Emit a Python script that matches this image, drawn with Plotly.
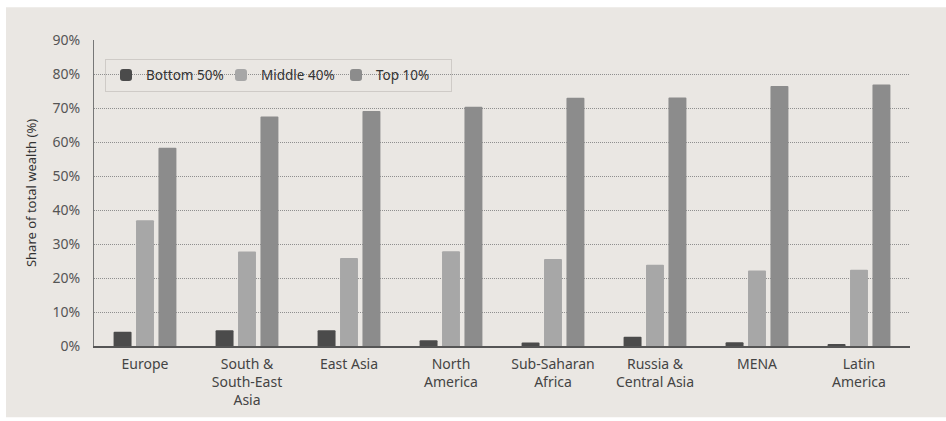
import plotly.graph_objects as go

# Regional wealth shares by group
regions = ["Europe", "South &<br>South-East<br>Asia", "East Asia", "North<br>America",
           "Sub-Saharan<br>Africa", "Russia &<br>Central Asia", "MENA", "Latin<br>America"]
bottom50 = [4.2, 4.6, 4.6, 1.7, 1.0, 2.7, 1.1, 0.5]
middle40 = [37.0, 27.8, 25.9, 27.9, 25.6, 23.9, 22.2, 22.4]
top10 = [58.3, 67.5, 69.1, 70.4, 73.0, 73.1, 76.5, 76.9]
y_ticks = [0, 10, 20, 30, 40, 50, 60, 70, 80, 90]

series = [
    ("Bottom 50%", bottom50, "#4b4b4b"),
    ("Middle 40%", middle40, "#a7a7a7"),
    ("Top 10%", top10, "#8c8c8c"),
]

fig = go.Figure()
for name, vals, color in series:
    fig.add_trace(go.Bar(
        x=regions, y=vals, name=name,
        marker=dict(color=color, line=dict(width=0), cornerradius=1),
    ))

W, H = 946, 421
L, R, T, B = 94, 36, 40, 72
pw, ph = W - L - R, H - T - B

def px_x(p):
    return (p - L) / pw

def px_y(p):
    return (H - B - p) / ph

bg = "#eae7e3"
fig.update_layout(
    width=W, height=H,
    margin=dict(l=L, r=R, t=T, b=B),
    paper_bgcolor="white",
    plot_bgcolor="rgba(0,0,0,0)",
    barmode="group",
    bargap=0.34,
    bargroupgap=0.2,
    font=dict(family="Noto Sans", size=13, color="#444"),
    showlegend=True,
    legend=dict(
        orientation="h",
        x=px_x(105), y=px_y(59), xanchor="left", yanchor="top",
        bgcolor="rgba(0,0,0,0)",
        bordercolor="#cfcbc7", borderwidth=1,
        font=dict(size=13.5, color="#333"),
        itemwidth=30,
        entrywidth=70, entrywidthmode="pixels",
        traceorder="normal",
    ),
    shapes=[dict(
        type="rect", layer="below", xref="paper", yref="paper",
        x0=px_x(6), x1=px_x(950), y0=px_y(421), y1=px_y(7),
        fillcolor=bg, line=dict(width=0),
    )],
)

fig.update_xaxes(
    showline=True, linecolor="#555", linewidth=1.5,
    showgrid=False,
    tickfont=dict(size=14, color="#444"),
    ticks="", ticklabelstandoff=4,
)
fig.update_yaxes(
    range=[0, 90], tickvals=y_ticks, ticktext=[f"{v}%" for v in y_ticks],
    showline=True, linecolor="#777", linewidth=1,
    showgrid=True, gridcolor="#8f8f8f", griddash="1px,1px", gridwidth=1,
    zeroline=False,
    tickfont=dict(size=14, color="#555"),
    ticks="", ticklabelstandoff=10,
    title=dict(text="Share of total wealth (%)", font=dict(size=13, color="#333"), standoff=12),
)

fig.write_html("out.html")
